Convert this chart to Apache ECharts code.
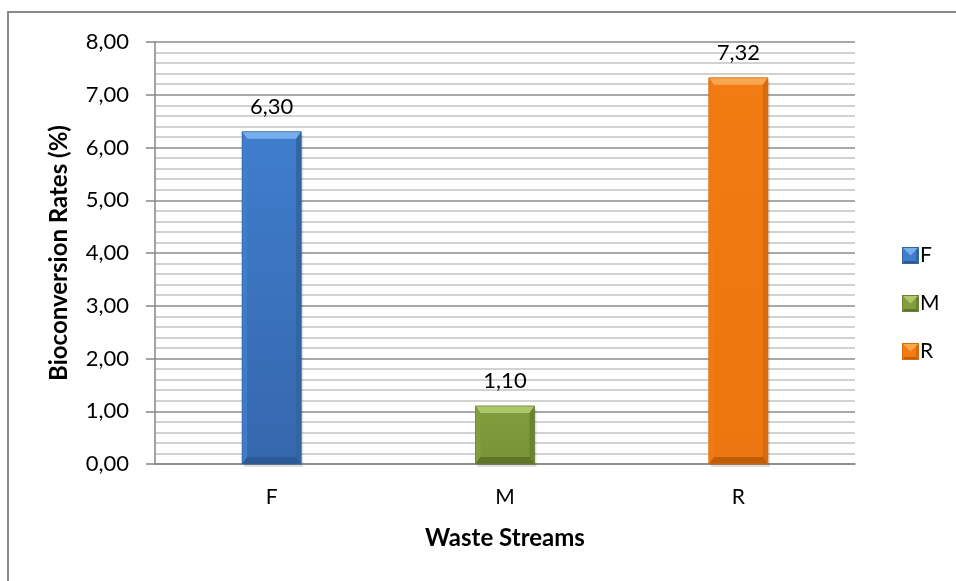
<!DOCTYPE html>
<html>
<head>
<meta charset="utf-8">
<script src="https://cdn.jsdelivr.net/npm/echarts@6/dist/echarts.min.js"></script>
<style>
  html, body { margin: 0; padding: 0; background: #fff; }
  #chart { width: 956px; height: 581px; }
</style>
</head>
<body>
<div id="chart"></div>
<script>
// Bioconversion rates per waste stream
const categories = ['F', 'M', 'R'];
const rates = [6.30, 1.10, 7.32];
const yTicks = [0, 1, 2, 3, 4, 5, 6, 7, 8];

// Bevelled bar palette: face (top/bottom), light bevel, dark bevel, edge
const palette = {
  F: { face: '#3f7dcd', faceLow: '#3567ad', light: '#79aeee', dark: '#2b5a97', edge: '#33669f' },
  M: { face: '#829e3e', faceLow: '#789237', light: '#adc76a', dark: '#5d7429', edge: '#6a8232' },
  R: { face: '#f27b12', faceLow: '#ec760f', light: '#f9a852', dark: '#c05e08', edge: '#d86c0c' }
};

const FONT = 'Lato, "Open Sans", sans-serif';
const fmt = v => v.toFixed(2).replace('.', ',');

// Small bevelled square used as the legend symbol
function legendIcon(c) {
  const svg = "<svg xmlns='http://www.w3.org/2000/svg' width='17' height='17'>" +
    "<rect width='17' height='17' fill='" + c.face + "'/>" +
    "<polygon points='0,0 17,0 8.5,8.5' fill='" + c.light + "'/>" +
    "<polygon points='0,17 17,17 14,14 3,14' fill='" + c.dark + "'/>" +
    "<polygon points='17,0 17,17 14,14 14,3' fill='" + c.edge + "'/>" +
    "<rect x='0.5' y='0.5' width='16' height='16' fill='none' stroke='" + c.edge + "'/></svg>";
  return 'image://data:image/svg+xml;charset=utf-8,' + encodeURIComponent(svg);
}

function renderBar(params, api) {
  const cat = categories[api.value(0)];
  const c = palette[cat];
  const topPt = api.coord([api.value(0), api.value(1)]);
  const basePt = api.coord([api.value(0), 0]);
  const bw = api.size([1, 0])[0] * 0.253;
  const l = topPt[0] - bw / 2, r = topPt[0] + bw / 2;
  const t = topPt[1], b = basePt[1];
  const bv = Math.min(7, (b - t) / 3);
  const sv = 5;
  const faceFill = new echarts.graphic.LinearGradient(0, 0, 0, 1, [
    { offset: 0, color: c.face }, { offset: 1, color: c.faceLow }]);
  return {
    type: 'group',
    children: [
      // soft shadow under the bar
      { type: 'rect', shape: { x: l + 2, y: t + 3, width: bw, height: b - t }, style: { fill: 'rgba(0,0,0,0.12)' } },
      { type: 'rect', shape: { x: l, y: t, width: bw, height: b - t }, style: { fill: faceFill } },
      { type: 'polygon', shape: { points: [[l, t], [r, t], [r - sv, t + bv], [l + sv, t + bv]] }, style: { fill: c.light } },
      { type: 'polygon', shape: { points: [[l, t], [l + sv, t + bv], [l + sv, b - bv], [l, b]] }, style: { fill: c.face, opacity: 0.9 } },
      { type: 'polygon', shape: { points: [[r, t], [r, b], [r - sv, b - bv], [r - sv, t + bv]] }, style: { fill: c.edge } },
      { type: 'polygon', shape: { points: [[l, b], [l + sv, b - bv], [r - sv, b - bv], [r, b]] }, style: { fill: c.dark } },
      { type: 'rect', shape: { x: l, y: t, width: bw, height: b - t }, style: { fill: 'none', stroke: c.edge, lineWidth: 0.8 } },
      { type: 'text', x: topPt[0], y: t - 14,
        style: { text: fmt(api.value(1)), fill: '#000', font: '22px ' + FONT, align: 'center', verticalAlign: 'bottom' } }
    ]
  };
}

const series = categories.map((cat, i) => ({
  name: cat,
  type: 'custom',
  renderItem: renderBar,
  itemStyle: { color: palette[cat].face },
  encode: { x: 0, y: 1 },
  data: [[i, rates[i]]]
}));

const chart = echarts.init(document.getElementById('chart'));
chart.setOption({
  animation: false,
  textStyle: { fontFamily: FONT },
  graphic: [
    { type: 'rect', shape: { x: 8, y: 12, width: 1000, height: 700 }, style: { fill: 'none', stroke: '#8a8a8a', lineWidth: 2 }, silent: true }
  ],
  grid: { left: 155, right: 101, top: 42, bottom: 117 },
  legend: {
    orient: 'vertical',
    left: 897,
    top: 240,
    itemWidth: 17,
    itemHeight: 17,
    itemGap: 27,
    textStyle: { fontSize: 21, color: '#000', fontFamily: FONT, padding: [0, 0, 0, -4] },
    data: categories.map(cat => ({ name: cat, icon: legendIcon(palette[cat]) }))
  },
  xAxis: {
    type: 'category',
    data: categories,
    name: 'Waste Streams',
    nameLocation: 'middle',
    nameGap: 62,
    nameTextStyle: { fontSize: 24, fontWeight: 'bold', color: '#000', fontFamily: FONT },
    axisLine: { lineStyle: { color: '#868686', width: 1.5 } },
    axisTick: { show: false },
    axisLabel: { fontSize: 21, color: '#000', margin: 23, fontFamily: FONT },
    splitLine: { show: false }
  },
  yAxis: {
    type: 'value',
    min: 0,
    max: 8,
    interval: 1,
    name: 'Bioconversion Rates (%)',
    nameLocation: 'middle',
    nameGap: 84,
    nameTextStyle: { fontSize: 24, fontWeight: 'bold', color: '#000', fontFamily: FONT },
    axisLine: { show: true, lineStyle: { color: '#868686', width: 1.5 } },
    axisTick: { show: true, length: 9, lineStyle: { color: '#868686', width: 1.5 } },
    axisLabel: {
      fontSize: 22, color: '#000', margin: 26, fontFamily: FONT,
      formatter: v => yTicks.includes(v) ? fmt(v) : ''
    },
    splitLine: { show: true, lineStyle: { color: '#8c8c8c', width: 1.5 } },
    minorTick: { show: false, splitNumber: 5 },
    minorSplitLine: { show: true, lineStyle: { color: '#c4c4c4', width: 1.5 } }
  },
  series: series
});
</script>
</body>
</html>
